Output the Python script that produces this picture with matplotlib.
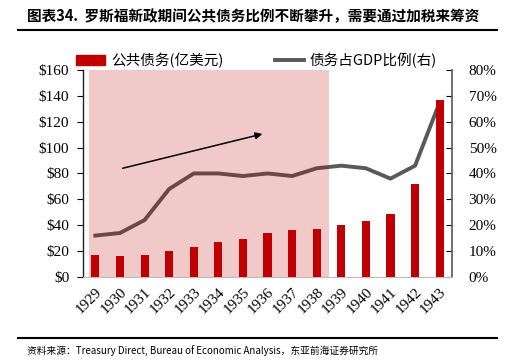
import matplotlib.pyplot as plt
from matplotlib.patches import Rectangle
from matplotlib.lines import Line2D

plt.rcParams['font.family'] = ['Liberation Serif', 'Noto Sans CJK SC']

years = ['1929', '1930', '1931', '1932', '1933', '1934', '1935', '1936',
         '1937', '1938', '1939', '1940', '1941', '1942', '1943']
debt = [17, 16, 17, 20, 23, 27, 29, 34, 36, 37, 40, 43, 49, 72, 137]
debt_gdp = [16, 17, 22, 34, 40, 40, 39, 40, 39, 42, 43, 42, 38, 43, 67.5]

red = '#C00000'
gray = '#595959'
cjk = ['Noto Sans CJK SC', 'Liberation Serif']
serif = ['Liberation Serif']

fig = plt.figure(figsize=(5.13, 3.64), dpi=100)
ax = fig.add_axes([0.162, 0.239, 0.719, 0.569])
ax2 = ax.twinx()

x = list(range(len(years)))

# 右轴折线放在底层，粉色阴影半透明盖在上面
ax.set_zorder(2)
ax.patch.set_visible(False)
ax2.plot(x, debt_gdp, color=gray, lw=2.8, zorder=1)
ax2.set_ylim(0, 80)
ax2.set_yticks(range(0, 81, 10))
ax2.set_yticklabels([f'{v}%' for v in range(0, 81, 10)], fontsize=11, family=serif)

ax.add_patch(Rectangle((-0.25, 0), 9.75, 160, facecolor=(0.75, 0, 0), alpha=0.21,
                       edgecolor='none', zorder=1))
ax.bar(x, debt, width=0.33, color=red, zorder=3)
ax.set_xlim(-0.5, 14.5)
ax.set_ylim(0, 160)
ax.set_yticks(range(0, 161, 20))
ax.set_yticklabels([f'${v}' for v in range(0, 161, 20)], fontsize=11, family=serif)
ax.set_xticks(x)
ax.set_xticklabels(years, rotation=45, fontsize=11, family=serif,
                   ha='right', va='top', rotation_mode='anchor')
ax.tick_params(axis='x', length=0, pad=6)

ax.annotate('', xy=(6.9, 111), xytext=(1, 83.5),
            arrowprops=dict(arrowstyle='-|>', color='black', lw=1.1), zorder=4)

for a in (ax, ax2):
    a.spines['top'].set_visible(False)
ax.spines['left'].set_color('#222222')
ax.spines['left'].set_linewidth(1.0)
ax2.spines['left'].set_visible(False)
ax2.spines['right'].set_color(gray)
ax2.spines['right'].set_linewidth(1.2)
ax.spines['bottom'].set_color('#BBBBBB')
ax2.spines['bottom'].set_visible(False)
ax.spines['right'].set_visible(False)
ax.tick_params(axis='y', length=4, width=0.8, pad=6)
ax2.tick_params(axis='y', length=4, width=0.8, direction='in', pad=12)

# 图例
handles = [Rectangle((0, 0), 1, 1, color=red),
           Line2D([0], [0], color=gray, lw=2.8)]
fig.legend(handles, ['公共债务(亿美元)', '债务占GDP比例(右)'], loc='center',
           bbox_to_anchor=(0.5, 0.833), ncol=2, frameon=False,
           prop={'family': cjk, 'size': 10.5}, handlelength=2.0,
           columnspacing=3.5, handletextpad=0.4)

# 标题与来源
fig.text(0.053, 0.957, '图表34.  罗斯福新政期间公共债务比例不断攀升，需要通过加税来筹资',
         fontsize=10.5, fontweight='bold', family=cjk, va='center')
fig.add_artist(Line2D([0.035, 0.969], [0.918, 0.918], color='black', lw=1.5))
fig.add_artist(Line2D([0.035, 0.969], [0.072, 0.072], color='black', lw=1.5))
fig.text(0.053, 0.038, '资料来源：Treasury Direct, Bureau of Economic Analysis，东亚前海证券研究所',
         fontsize=7, family=cjk, va='center')

plt.savefig('out.png', dpi=100)
